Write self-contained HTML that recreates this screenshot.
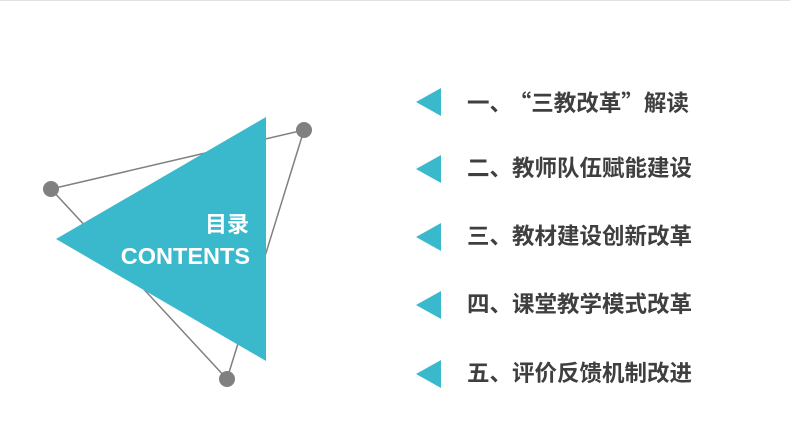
<!DOCTYPE html>
<html><head><meta charset="utf-8"><style>
html,body{margin:0;padding:0;background:#fff;}
body{width:790px;height:444px;position:relative;overflow:hidden;border-top:1px solid #dfe3e3;box-sizing:border-box;}
.t{position:absolute;left:467px;font-family:"Liberation Sans","Noto Sans CJK SC",sans-serif;font-weight:bold;font-size:22.5px;color:#3f3f3f;line-height:26px;white-space:nowrap;}
.q{font-family:"Noto Sans CJK SC",sans-serif;}
</style></head><body>
<svg width="790" height="444" style="position:absolute;left:0;top:0">
<polygon points="51,188 304,129 227,378" fill="none" stroke="#808080" stroke-width="1.5"/>
<circle cx="51" cy="188" r="8" fill="#808080"/>
<circle cx="304" cy="129" r="8" fill="#808080"/>
<circle cx="227" cy="378" r="8" fill="#808080"/>
<polygon points="56,238 266,116 266,360" fill="#3bb9cc"/>
<text x="249" y="231" text-anchor="end" font-family="Liberation Sans,Noto Sans CJK SC,sans-serif" font-weight="bold" font-size="22" fill="#fff">目录</text>
<text x="250" y="263" text-anchor="end" font-family="Liberation Sans,Noto Sans CJK SC,sans-serif" font-weight="bold" font-size="23.5" fill="#fff">CONTENTS</text>
<g fill="#3bb9cc">
<polygon points="416,101 441,87 441,115"/>
<polygon points="416,168 441,154 441,182"/>
<polygon points="416,236 441,222 441,250"/>
<polygon points="416,304 441,290 441,318"/>
<polygon points="416,373 441,359 441,387"/>
</g>
</svg>
<div class="t" style="top:88px">一、<span class="q" style="margin-left:8px">“</span>三教改革<span class="q">”</span>解读</div>
<div class="t" style="top:155px">二、教师队伍赋能建设</div>
<div class="t" style="top:223px">三、教材建设创新改革</div>
<div class="t" style="top:291px">四、课堂教学模式改革</div>
<div class="t" style="top:360px">五、评价反馈机制改进</div>
</body></html>
